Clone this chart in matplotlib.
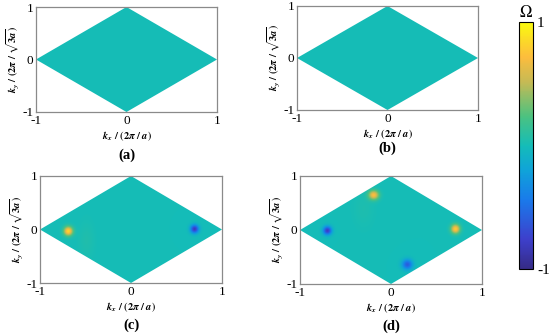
import numpy as np
import matplotlib
matplotlib.use("Agg")
import matplotlib.pyplot as plt
from matplotlib.colors import LinearSegmentedColormap
from matplotlib.patches import Polygon

plt.rcParams['font.family'] = ['Liberation Serif', 'DejaVu Serif']
plt.rcParams['mathtext.fontset'] = 'stix'

# ---- data: Berry-curvature hot spots per panel (kx, ky, amplitude) ----
panel_names = ["(a)", "(b)", "(c)", "(d)"]
peaks_a_kx, peaks_a_ky, peaks_a_amp = [], [], []
peaks_b_kx, peaks_b_ky, peaks_b_amp = [], [], []
peaks_c_kx = [-0.69, 0.70, -0.49]
peaks_c_ky = [-0.03, 0.01, -0.20]
peaks_c_amp = [0.85, -0.82, 0.05]
peaks_c_sx = [0.035, 0.032, 0.06]
peaks_c_sy = [0.06, 0.055, 0.25]
peaks_d_kx = [-0.70, 0.71, -0.19, 0.18, -0.30]
peaks_d_ky = [-0.01, 0.02, 0.65, -0.64, 0.40]
peaks_d_amp = [-0.80, 0.80, 0.72, -0.60, 0.04]
peaks_d_sx = [0.033, 0.035, 0.04, 0.04, 0.08]
peaks_d_sy = [0.055, 0.06, 0.06, 0.065, 0.25]
xticks = [-1, 0, 1]
yticks = [-1, 0, 1]
xtick_labels = ["-1", "0", "1"]
ytick_labels = ["-1", "0", "1"]
cbar_ticks = [-1, 1]
cbar_labels = ["-1", "1"]

# parula-like colormap
cmap = LinearSegmentedColormap.from_list("parula_like", [
    (0.00, (0.21, 0.17, 0.53)),
    (0.12, (0.24, 0.25, 0.80)),
    (0.28, (0.10, 0.48, 0.92)),
    (0.40, (0.06, 0.64, 0.85)),
    (0.50, (0.08, 0.74, 0.72)),
    (0.62, (0.30, 0.76, 0.50)),
    (0.76, (0.78, 0.73, 0.33)),
    (0.86, (0.99, 0.74, 0.24)),
    (1.00, (0.98, 0.98, 0.06)),
])

W, H = 550, 336
fig = plt.figure(figsize=(W / 100, H / 100), dpi=100)

def ax_rect(l, r, t, b):
    return [l / W, 1 - b / H, (r - l) / W, (b - t) / H]

rects = [ax_rect(36, 217, 7, 112), ax_rect(297, 478, 6, 110),
         ax_rect(40, 222, 176, 283), ax_rect(300, 482, 176, 284)]
label_y = [155, 148, 325, 326]

peaks = [
    (peaks_a_kx, peaks_a_ky, peaks_a_amp, [], []),
    (peaks_b_kx, peaks_b_ky, peaks_b_amp, [], []),
    (peaks_c_kx, peaks_c_ky, peaks_c_amp, peaks_c_sx, peaks_c_sy),
    (peaks_d_kx, peaks_d_ky, peaks_d_amp, peaks_d_sx, peaks_d_sy),
]

gx = np.linspace(-1, 1, 500)
gy = np.linspace(-1, 1, 400)
X, Y = np.meshgrid(gx, gy)

im = None
for i in range(4):
    ax = fig.add_axes(rects[i])
    kx, ky, amp, sx, sy = peaks[i]
    Z = np.zeros_like(X)
    for x0, y0, a, s1, s2 in zip(kx, ky, amp, sx, sy):
        Z += a * np.exp(-((X - x0) ** 2 / (2 * s1 ** 2) + (Y - y0) ** 2 / (2 * s2 ** 2)))
    im = ax.imshow(Z, extent=(-1, 1, -1, 1), origin='lower', cmap=cmap,
                   vmin=-1, vmax=1, aspect='auto', interpolation='bilinear')
    poly = Polygon([(-1, 0), (0, 1), (1, 0), (0, -1)], closed=True,
                   transform=ax.transData, facecolor='none', edgecolor='none')
    ax.add_patch(poly)
    im.set_clip_path(poly)
    ax.set_xlim(-1, 1)
    ax.set_ylim(-1, 1)
    ax.set_xticks(xticks)
    ax.set_xticklabels(xtick_labels)
    ax.set_yticks(yticks)
    ax.set_yticklabels(ytick_labels)
    ax.tick_params(length=0, labelsize=9.5, pad=2)
    for s in ax.spines.values():
        s.set_color('#8a8a8a')
        s.set_linewidth(0.9)
    ax.set_xlabel(r'$\mathbfit{k}_{\mathbfit{x}}\ \mathbf{/\ (2}\mathbfit{\pi}\ \mathbf{/}\ \mathbfit{a}\mathbf{)}$',
                  fontsize=7.5, labelpad=2)
    ax.set_ylabel(r'$\mathbfit{k}_{\mathbfit{y}}\ \mathbf{/\ (2}\mathbfit{\pi}\ \mathbf{/}\ \sqrt{\mathbf{3}\mathbfit{a}}\mathbf{)}$',
                  fontsize=7.5, labelpad=1)
    cx = (rects[i][0] + rects[i][2] / 2)
    fig.text(cx, 1 - label_y[i] / H, panel_names[i], ha='center', va='center',
             fontsize=10.5, fontweight='bold')

cax = fig.add_axes(ax_rect(519, 533, 22, 269))
cb = fig.colorbar(im, cax=cax, ticks=cbar_ticks)
cb.set_ticklabels(cbar_labels)
cb.ax.tick_params(length=0, labelsize=11, pad=3)
cb.outline.set_linewidth(0.8)
fig.text(526 / W, 1 - 13 / H, r'$\Omega$', ha='center', va='center', fontsize=12)

fig.savefig("out.png", dpi=100)
